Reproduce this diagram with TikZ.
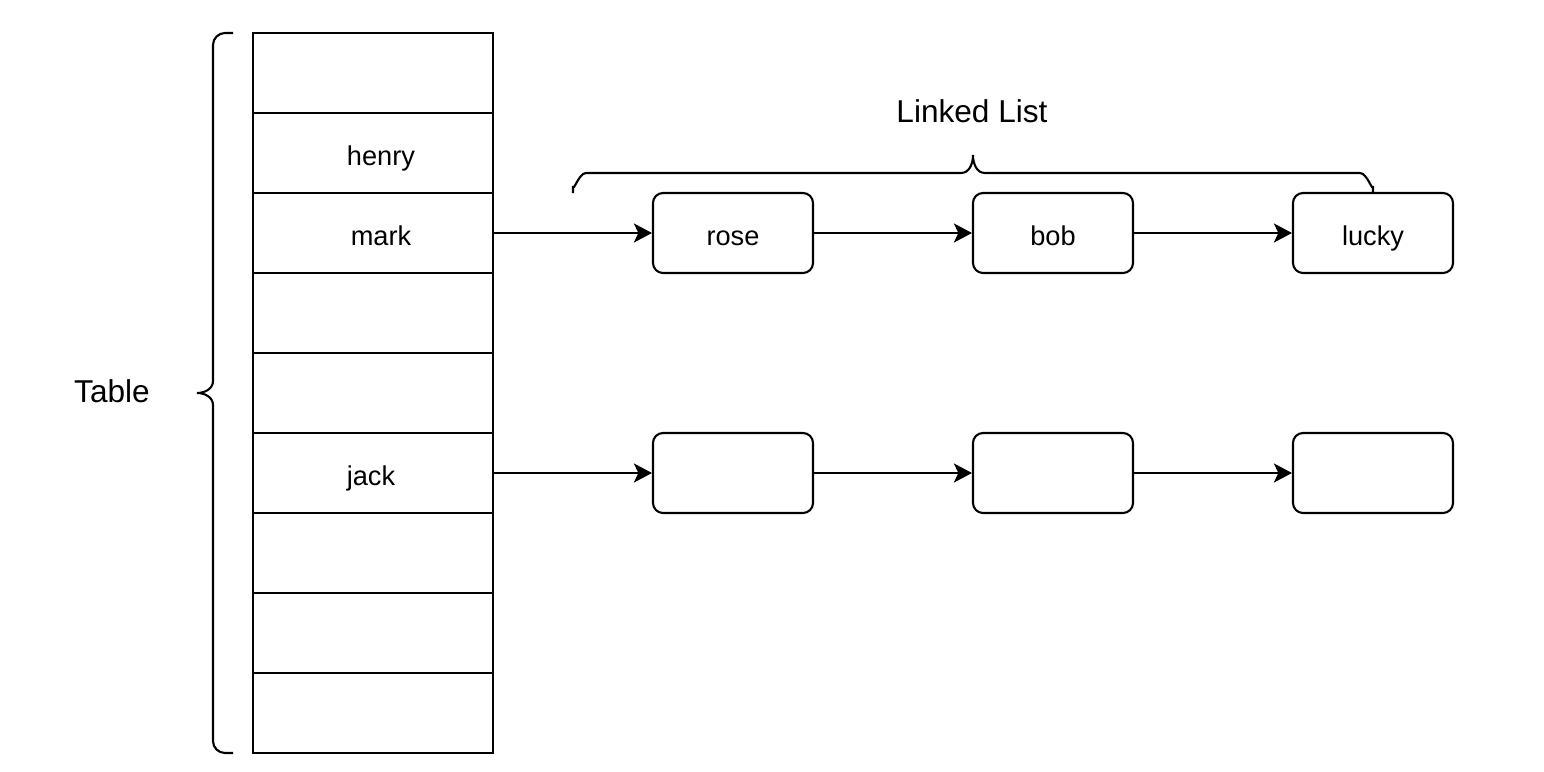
\documentclass[tikz,border=0pt]{standalone}
\usepackage{fontspec}
\setmainfont{Liberation Sans}
\usetikzlibrary{arrows.meta}
\begin{document}
\begin{tikzpicture}[x=0.5pt,y=-0.5pt,
  line width=1.05pt,
  cell/.style={draw,minimum width=120pt,minimum height=40pt,inner sep=0pt},
  item/.style={draw,rounded corners=5pt,minimum width=80pt,minimum height=40pt,inner sep=0pt},
  lbl/.style={font=\fontsize{13.6pt}{16pt}\selectfont,text height=12.5pt,text depth=0.5pt},
  big/.style={font=\fontsize{15.8pt}{18pt}\selectfont},
  link/.style={-{Stealth[length=9pt,width=9.5pt,inset=2.2pt]}}]
\useasboundingbox (0,0) rectangle (1544,772);

% hash table slots
\foreach \i in {0,...,8}
  \node[cell] (c\i) at (373,{73+80*\i}) {};
\node[lbl] (tH) at (381,153) {henry};
\node[lbl] (tM) at (381,233) {mark};
\node[lbl] (tJ) at (371,473) {jack};

% chained entries
\node[item,lbl] (r1) at (733,233) {rose};
\node[item,lbl] (r2) at (1053,233) {bob};
\node[item,lbl] (r3) at (1373,233) {lucky};
\node[item] (s1) at (733,473) {};
\node[item] (s2) at (1053,473) {};
\node[item] (s3) at (1373,473) {};

\draw[link] (c2.east) -- (r1.west);
\draw[link] (r1) -- (r2);
\draw[link] (r2) -- (r3);
\draw[link] (c5.east) -- (s1.west);
\draw[link] (s1) -- (s2);
\draw[link] (s2) -- (s3);

% left brace around the table
\coordinate (bt) at (233,33);
\coordinate (bb) at (233,753);
\coordinate (bm) at (197,393);
\draw (bt) -- (225,33) to[out=180,in=90] (213,45) -- (213,381)
  to[out=-90,in=0] (bm) to[out=0,in=90] (213,405) -- (213,741)
  to[out=-90,in=180] (225,753) -- (bb);
\node[big] (tTable) at (112,391) {Table};

% top brace over the list
\coordinate (ll) at (573,193);
\coordinate (lr) at (1373,193);
\coordinate (lm) at (973,155);
\draw (ll) -- (573,186) to[out=-90,in=180] (586,173) -- (961,173)
  to[out=0,in=-90] (lm) to[out=-90,in=180] (985,173) -- (1360,173)
  to[out=0,in=-90] (1373,186) -- (lr);
\node[big] (tList) at (972,111) {Linked List};
\end{tikzpicture}
\end{document}
